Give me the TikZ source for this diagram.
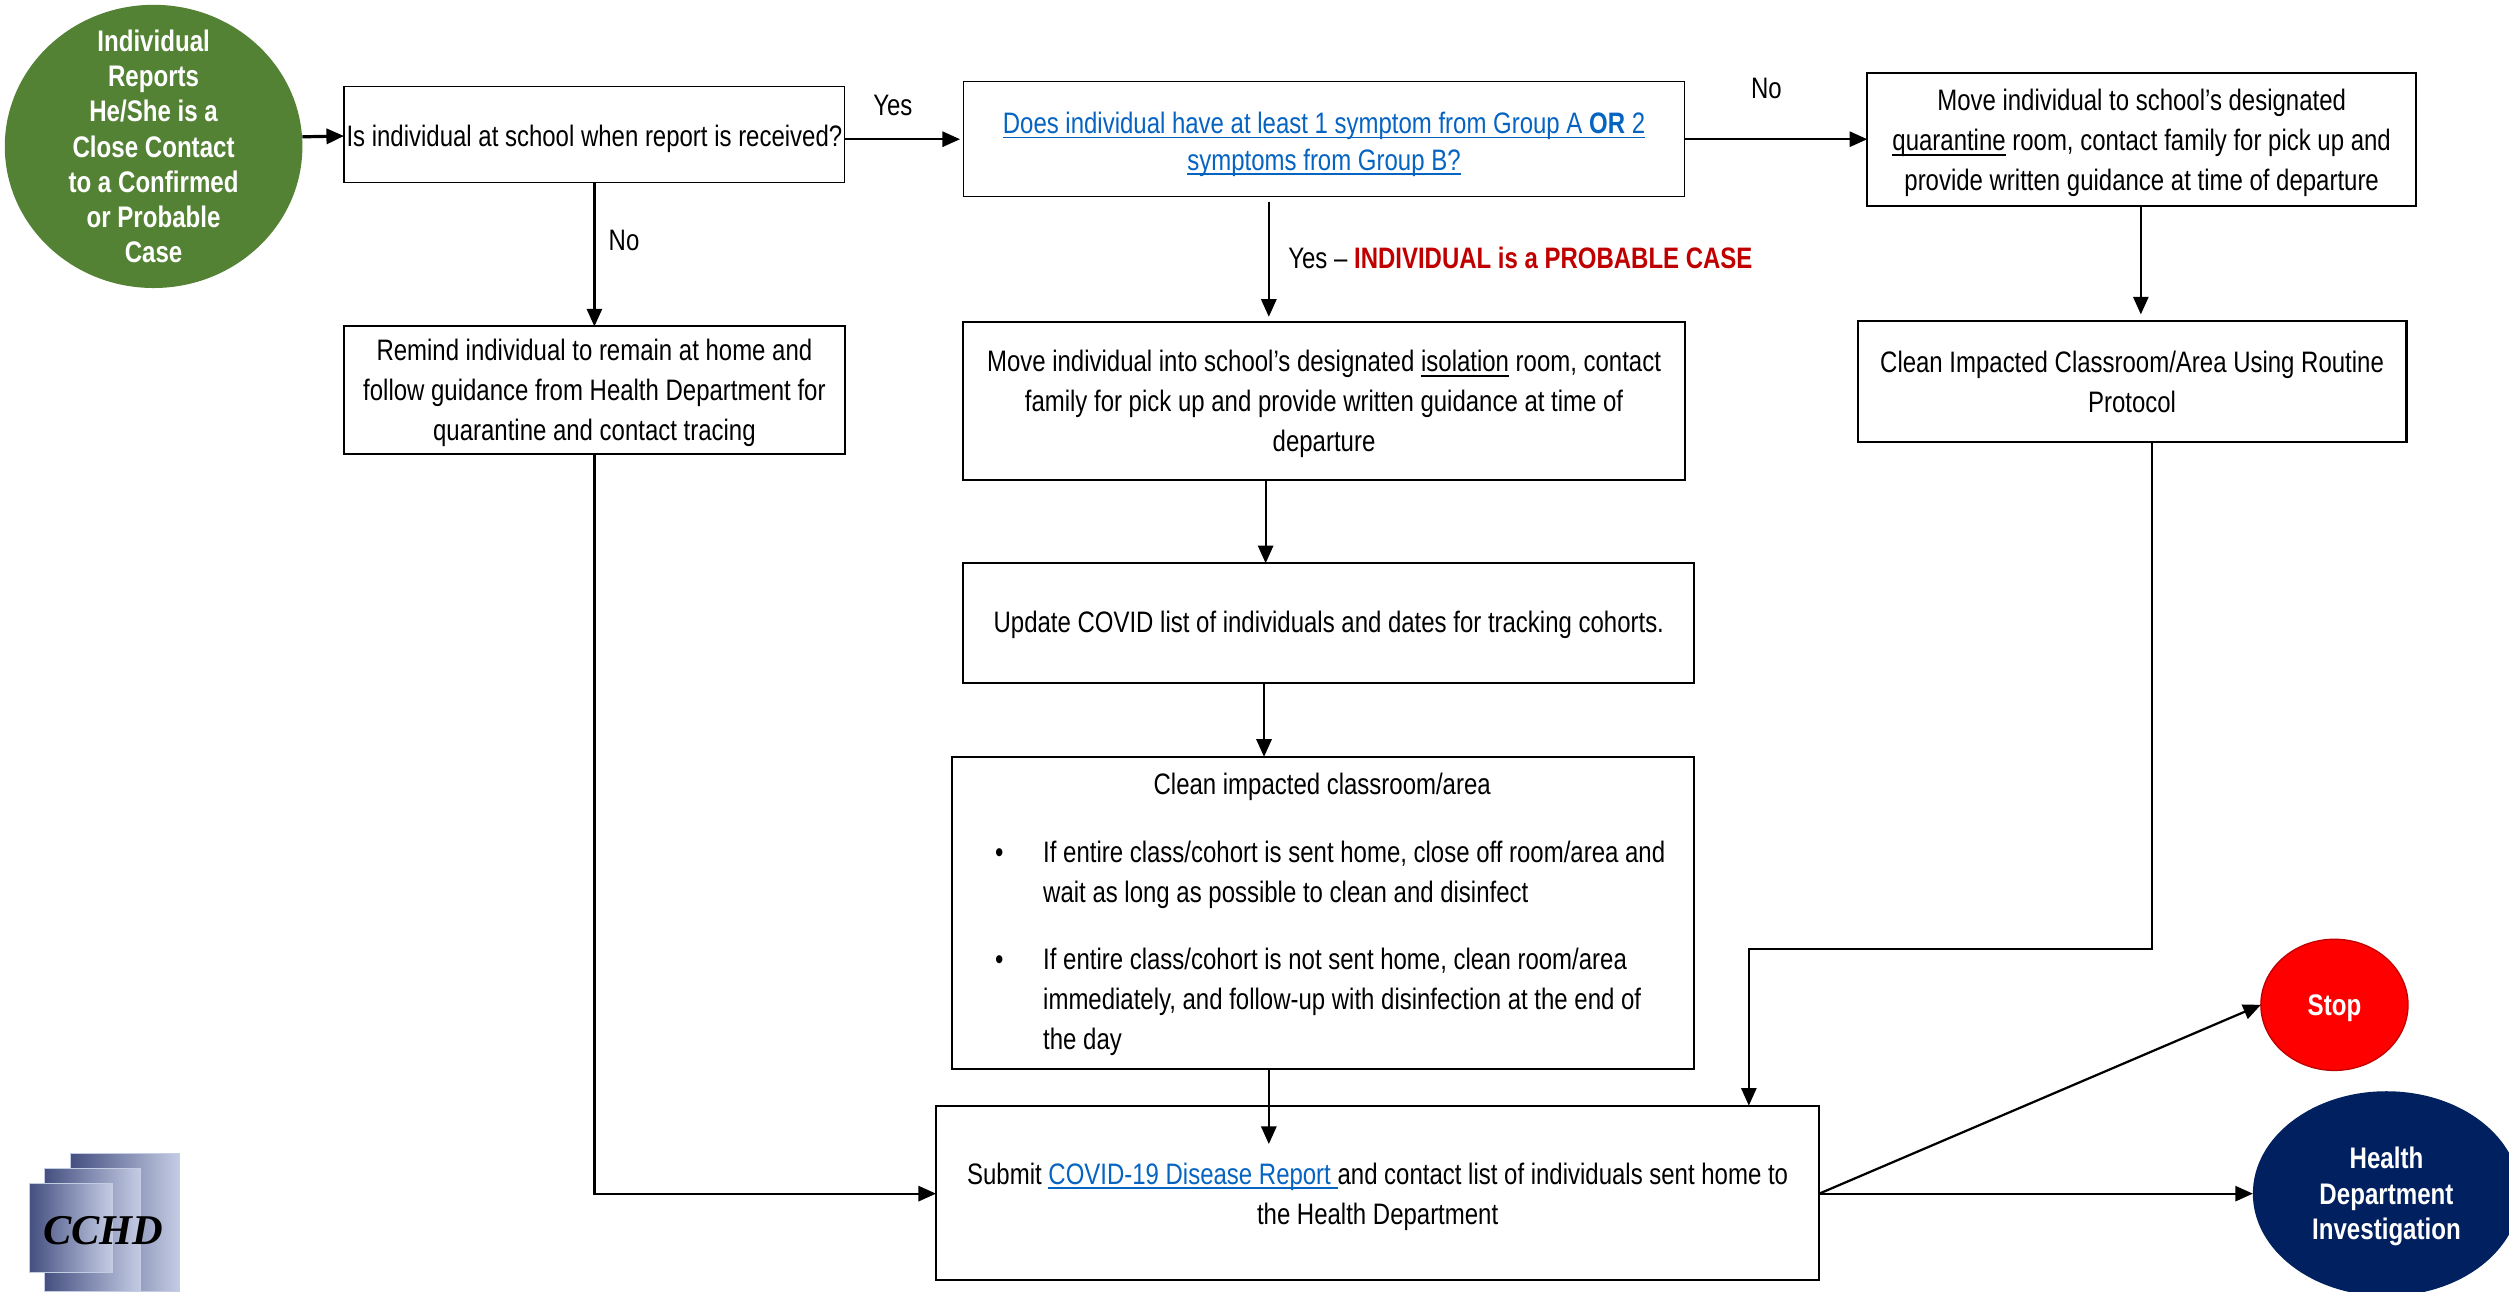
\documentclass[tikz,border=0pt]{standalone}
\usepackage{fontspec}
\usepackage{xcolor}
\setmainfont[FakeStretch=0.81]{Liberation Sans}
\newfontfamily\logofont{Liberation Serif}
\usetikzlibrary{shapes.geometric,arrows.meta,positioning}
\definecolor{startgreen}{HTML}{548235}
\definecolor{linkblue}{HTML}{0563C1}
\definecolor{stopred}{HTML}{FF0000}
\definecolor{hdnavy}{HTML}{002060}
\definecolor{casered}{HTML}{C00000}
\definecolor{logodark}{HTML}{454F80}
\definecolor{logolight}{HTML}{C4CCE4}
\newcommand{\ulined}[1]{\setbox0\hbox{#1}\rlap{\rule[-3pt]{\wd0}{1pt}}\box0 }
\newcommand{\linktext}[1]{\textcolor{linkblue}{\ulined{#1}}}
\newcommand{\dn}[1]{\rule{0pt}{#1pt}}

\begin{document}
\begin{tikzpicture}[
    x=1pt, y=-1pt,
    font=\fontsize{18.5}{25}\selectfont,
    box/.style={rectangle, draw, line width=1.3pt, inner sep=0pt, outer sep=0pt, align=center},
    thinbox/.style={box, line width=0.7pt},
    oval/.style={ellipse, inner sep=0pt, outer sep=0pt, align=center, text=white,
        font=\fontsize{18.6}{22}\selectfont\bfseries},
    arrow/.style={-{Triangle[length=11pt,width=9.5pt]}, line width=1.4pt},
    logobox/.style={left color=logodark, right color=logolight, draw=logolight, line width=0.5pt}
]
\useasboundingbox (0,0) rectangle (1568.1,806.9);

% logo
\shade[logobox] (44,721) rectangle (112,807);
\shade[logobox] (27.5,730) rectangle (88,807);
\shade[logobox] (18.5,739.5) rectangle (70,795.5);
\node[inner sep=0pt] (logo) at (64.5,769) {\logofont\fontsize{26.5}{26.5}\selectfont\bfseries\itshape CCHD};

\node[oval, inner ysep=-20pt, fill=startgreen, minimum width=186pt, minimum height=177pt] (start) at (96,91.5)
    {Individual\\Reports\\He/She is a\\Close Contact\\to a Confirmed\\or Probable\\Case};

\node[thinbox, minimum width=313pt, minimum height=60pt] (school) at (371.5,84)
    {\dn{19.5}Is individual at school when report is received?};
\node[box, minimum width=313pt, minimum height=80pt, below=90pt of school] (remind)
    {\dn{16.5}Remind individual to remain at home and\\follow guidance from Health Department for\\quarantine and contact tracing};

\node[thinbox, minimum width=451pt, minimum height=72pt, right=74pt of school, yshift=-3pt] (symptom)
    {\dn{19.5}\linktext{Does individual have at least 1 symptom from Group A \textbf{OR} 2}\\[-2pt]\linktext{symptoms from Group B?}};
\node[box, minimum width=451pt, minimum height=99pt, below=78pt of symptom] (isolate)
    {\dn{17.5}Move individual into school’s designated \ulined{isolation} room, contact\\family for pick up and provide written guidance at time of\\departure};
\node[box, minimum width=457pt, minimum height=75pt, below right=52pt and 0pt of isolate.south west] (update)
    {\dn{16}Update COVID list of individuals and dates for tracking cohorts.};
\node[box, minimum width=464pt, minimum height=195pt, text width=464pt, align=flush left,
    below left=46pt and 0pt of update.south east] (clean)
    {\dn{15.5}\hspace*{126pt}Clean impacted classroom/area\\[17pt]
     \hspace*{27pt}\makebox[30pt][l]{•}If entire class/cohort is sent home, close off room/area and\\
     \hspace*{57pt}wait as long as possible to clean and disinfect\\[17pt]
     \hspace*{27pt}\makebox[30pt][l]{•}If entire class/cohort is not sent home, clean room/area\\
     \hspace*{57pt}immediately, and follow-up with disinfection at the end of\\
     \hspace*{57pt}the day};
\node[box, minimum width=552pt, minimum height=109pt, below right=23pt and -10pt of clean.south west] (submit)
    {\dn{18}Submit \linktext{COVID-19 Disease Report }and contact list of individuals sent home to\\the Health Department};

\node[box, minimum width=343pt, minimum height=83pt, right=114pt of symptom] (quarantine)
    {\dn{18.5}Move individual to school’s designated\\\ulined{quarantine} room, contact family for pick up and\\provide written guidance at time of departure};
\node[box, minimum width=343pt, minimum height=76pt, below right=72pt and -6pt of quarantine.south west] (routine)
    {Clean Impacted Classroom/Area Using Routine\\Protocol};

\node[oval, fill=stopred, draw=casered, line width=0.8pt, minimum width=92pt, minimum height=82pt] (stop) at (1459,628) {\dn{17}Stop};
\node[oval, fill=hdnavy, minimum width=167pt, minimum height=128pt] (health) at (1491.5,746)
    {\dn{17}Health\\Department\\Investigation};

\node (yes1) at (558,66) {Yes};
\node (no1) at (390,150) {No};
\node (no2) at (1104,55) {No};
\node[anchor=west, inner sep=0pt] (yes2) at (805,161) {Yes – \textcolor{casered}{\textbf{INDIVIDUAL is a PROBABLE CASE}}};

\coordinate (bend) at (1093,593);

\draw[arrow, line width=2pt] ([yshift=6pt]start.east) -- ([yshift=-1pt]school.west);
\draw[arrow] ([yshift=-3pt]school.east) -- ([xshift=-2pt]symptom.west);
\draw[arrow] (school) -- (remind);
\draw[arrow] (remind.south) |- (submit.west |- health.west);
\draw[arrow] ([xshift=-34.5pt,yshift=-3pt]symptom.south) -- ([xshift=-34.5pt,yshift=3pt]isolate.north);
\draw[arrow] ([xshift=-36.5pt]isolate.south) -- ([xshift=-39.5pt]update.north);
\draw[arrow] ([xshift=-40.5pt]update.south) -- ([xshift=-37pt]clean.north);
\draw[arrow] ([xshift=-34pt]clean.south) -- ([xshift=-68pt,yshift=-24pt]submit.north);
\draw[arrow] (symptom.east) -- (symptom.east -| quarantine.west);
\draw[arrow] ([xshift=-0.5pt]quarantine.south) -- ([xshift=5.5pt,yshift=4pt]routine.north);
\draw[arrow] ([xshift=12.5pt]routine.south) |- (bend) -- (bend |- submit.north);
\draw[arrow] (submit.east |- health.west) -- (stop.west);
\draw[arrow] (submit.east |- health.west) -- (health.west);
\end{tikzpicture}
\end{document}
